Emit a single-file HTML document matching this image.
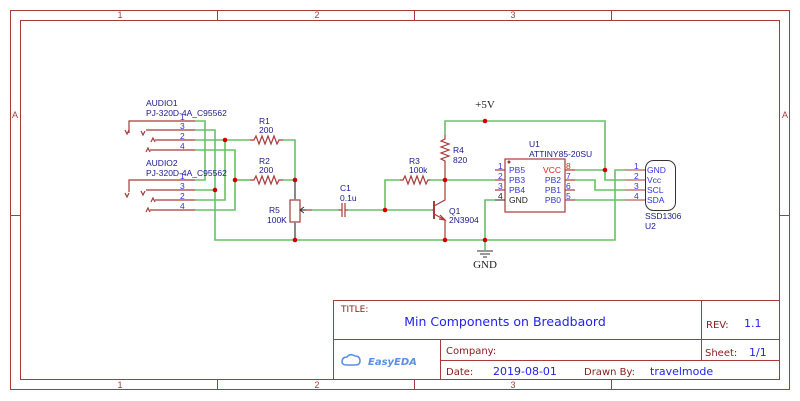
<!DOCTYPE html>
<html><head><meta charset="utf-8"><style>
html,body{margin:0;padding:0;background:#fff;}
svg{display:block;}
text{font-family:"Liberation Sans",sans-serif;}
text.serif{font-family:"Liberation Serif",serif;}
text.dv{font-family:"DejaVu Sans",sans-serif;}
</style></head><body>
<svg width="800" height="401" viewBox="0 0 800 401" xmlns="http://www.w3.org/2000/svg">
<g fill="none" stroke="#a83a3a" stroke-width="1">
<rect x="10.5" y="10.5" width="779" height="379"/>
<rect x="20.5" y="20.5" width="759" height="359"/>
<line x1="217.5" y1="10" x2="217.5" y2="20"/><line x1="414.5" y1="10" x2="414.5" y2="20"/><line x1="611.5" y1="10" x2="611.5" y2="20"/>
<line x1="217.5" y1="380" x2="217.5" y2="390"/><line x1="414.5" y1="380" x2="414.5" y2="390"/><line x1="611.5" y1="380" x2="611.5" y2="390"/>
<line x1="10" y1="215.5" x2="20" y2="215.5"/><line x1="780" y1="215.5" x2="790" y2="215.5"/>
</g>
<g font-size="9" fill="#a83a3a" text-anchor="middle">
<text x="120" y="18">1</text><text x="317" y="18">2</text><text x="513" y="18">3</text>
<text x="120" y="388">1</text><text x="317" y="388">2</text><text x="513" y="388">3</text>
<text x="15" y="118">A</text><text x="785" y="118">A</text>
</g>

<g fill="none" stroke="#66c266" stroke-width="1.6">
<polyline points="195,121 205,121 205,180 195,180"/>
<polyline points="195,130 215,130 215,240 485,240"/>
<polyline points="195,140 250,140"/>
<polyline points="195,150 235,150 235,210 195,210"/>
<polyline points="195,190 215,190"/>
<polyline points="195,200 225,200 225,140"/>
<polyline points="235,180 250,180"/>
<polyline points="283,140 295,140 295,180 283,180"/>
<polyline points="312,210 338,210"/>
<polyline points="348,210 432,210"/>
<polyline points="385,210 385,180 400,180"/>
<polyline points="430,180 495,180"/>
<polyline points="445,135 445,121 605,121 605,180 625,180"/>
<polyline points="575,170 605,170"/>
<polyline points="575,180 595,180 595,190 625,190"/>
<polyline points="575,200 625,200"/>
<polyline points="495,200 485,200 485,250"/>
<polyline points="485,240 615,240 615,170 625,170"/>
</g>

<g fill="none" stroke="#a83a3a" stroke-width="1.2">
<polyline points="129,133 129,121 195,121"/><polyline points="146,130 195,130"/><polyline points="155,140 195,140"/><polyline points="150,150 195,150"/>
<polyline points="125,130 127,134 129,130"/><polyline points="141,131 143,135 145,131"/><polyline points="151,142 153,138 155,142"/><polyline points="146,152 148,148 150,152"/>
<polyline points="129,192 129,180 195,180"/><polyline points="146,190 195,190"/><polyline points="155,200 195,200"/><polyline points="150,210 195,210"/>
<polyline points="125,193 127,197 129,193"/><polyline points="141,191 143,195 145,191"/><polyline points="151,202 153,198 155,202"/><polyline points="146,212 148,208 150,212"/>
<polyline points="250,140 254,140 256,136 259,144 262,136 265,144 268,136 271,144 274,136 277,144 279,140 283,140"/>
<polyline points="250,180 254,180 256,176 259,184 262,176 265,184 268,176 271,184 274,176 277,184 279,180 283,180"/>
<polyline points="400,180 403,180 405,176 408,184 411,176 414,184 417,176 420,184 423,176 426,184 428,180 430,180"/>
<polyline points="445,135 445,139 441,141 449,144 441,147 449,150 441,153 449,156 441,159 445,161 445,165"/>
<rect x="290" y="200" width="10" height="22"/>
<polyline points="302,210 312,210"/>
<line x1="338" y1="210" x2="342" y2="210"/><line x1="342" y1="203" x2="342" y2="217"/><line x1="345" y1="203" x2="345" y2="217"/><line x1="345" y1="210" x2="348" y2="210"/>
<line x1="434" y1="201" x2="434" y2="219" stroke-width="2"/>
<polyline points="434,206 445,200 445,180"/>
<polyline points="434,214 445,220 445,240"/>
<polyline points="440,215 445,220 439,219"/>
<line x1="432" y1="210" x2="434" y2="210"/>
<line x1="445" y1="165" x2="445" y2="180"/>
<rect x="505" y="159" width="60" height="53"/>
<line x1="495" y1="170" x2="505" y2="170"/><line x1="495" y1="180" x2="505" y2="180"/><line x1="495" y1="190" x2="505" y2="190"/>
<line x1="565" y1="170" x2="575" y2="170"/><line x1="565" y1="180" x2="575" y2="180"/><line x1="565" y1="190" x2="575" y2="190"/><line x1="565" y1="200" x2="575" y2="200"/>
</g>
<line x1="495" y1="200" x2="505" y2="200" stroke="#222" stroke-width="1"/>
<circle cx="509" cy="162" r="1.5" fill="#a33"/>
<g stroke="#888" stroke-width="2"><line x1="295" y1="180" x2="295" y2="200"/><line x1="295" y1="222" x2="295" y2="240"/></g>
<g fill="none" stroke="#333" stroke-width="1">
<line x1="300" y1="210" x2="306" y2="210"/><polyline points="304,207 300,210 304,213"/>
<rect x="645.5" y="160.5" width="30" height="50" rx="8"/>
<line x1="625" y1="170" x2="645" y2="170" stroke="#a33"/><line x1="625" y1="180" x2="645" y2="180" stroke="#a33"/><line x1="625" y1="190" x2="645" y2="190" stroke="#a33"/><line x1="625" y1="200" x2="645" y2="200" stroke="#a33"/>
<line x1="477" y1="251" x2="493" y2="251"/><line x1="480" y1="254" x2="490" y2="254"/><line x1="483" y1="257" x2="487" y2="257"/>
</g>
<g fill="#c00">
<circle cx="225" cy="140" r="2.3"/><circle cx="235" cy="180" r="2.3"/><circle cx="215" cy="190" r="2.3"/>
<circle cx="295" cy="180" r="2.3"/><circle cx="295" cy="240" r="2.3"/><circle cx="385" cy="210" r="2.3"/>
<circle cx="445" cy="180" r="2.3"/><circle cx="445" cy="240" r="2.3"/><circle cx="485" cy="240" r="2.3"/>
<circle cx="485" cy="121" r="2.3"/><circle cx="605" cy="170" r="2.3"/>
</g>
<g font-size="8.5" fill="#1a1a8c">
<text x="146" y="106">AUDIO1</text><text x="146" y="116">PJ-320D-4A_C95562</text>
<text x="146" y="166">AUDIO2</text><text x="146" y="176">PJ-320D-4A_C95562</text>
<text x="259" y="124">R1</text><text x="259" y="133">200</text>
<text x="259" y="164">R2</text><text x="259" y="173">200</text>
<text x="269" y="213">R5</text><text x="267" y="223">100K</text>
<text x="340" y="191">C1</text><text x="340" y="201">0.1u</text>
<text x="409" y="164">R3</text><text x="409" y="173">100k</text>
<text x="453" y="153">R4</text><text x="453" y="163">820</text>
<text x="449" y="214">Q1</text><text x="449" y="223">2N3904</text>
<text x="529" y="147">U1</text><text x="529" y="157">ATTINY85-20SU</text>
<text x="645" y="219">SSD1306</text><text x="645" y="229">U2</text>
</g>
<g font-size="8.5" fill="#3333dd">
<text x="180" y="120">1</text><text x="180" y="129">3</text><text x="180" y="139">2</text><text x="180" y="149">4</text>
<text x="180" y="179">1</text><text x="180" y="189">3</text><text x="180" y="199">2</text><text x="180" y="209">4</text>
<text x="498" y="169">1</text><text x="498" y="179">2</text><text x="498" y="189">3</text>
<text x="509" y="173">PB5</text><text x="509" y="183">PB3</text><text x="509" y="193">PB4</text>
<text x="561" y="183" text-anchor="end">PB2</text><text x="561" y="193" text-anchor="end">PB1</text><text x="561" y="203" text-anchor="end">PB0</text>
<text x="566" y="179">7</text><text x="566" y="189">6</text><text x="566" y="199">5</text>
<text x="634" y="169">1</text><text x="634" y="179">2</text><text x="634" y="189">3</text><text x="634" y="199">4</text>
<text x="647" y="173">GND</text><text x="647" y="183">Vcc</text><text x="647" y="193">SCL</text><text x="647" y="203">SDA</text>
</g>
<text x="509" y="203" font-size="8.5" fill="#222">GND</text><text x="498" y="199" font-size="8.5" fill="#222">4</text>
<text x="561" y="173" font-size="8.5" fill="#e02020" text-anchor="end">VCC</text><text x="566" y="169" font-size="8.5" fill="#e02020">8</text>
<text class="serif" x="485" y="108" font-size="11" fill="#222" text-anchor="middle">+5V</text>
<text class="serif" x="485" y="268" font-size="11" fill="#222" text-anchor="middle">GND</text>

<g fill="none" stroke="#a83a3a" stroke-width="1">
<rect x="333.5" y="300.5" width="446" height="79"/>
<line x1="333" y1="339.5" x2="780" y2="339.5"/>
<line x1="701.5" y1="300" x2="701.5" y2="360"/>
<line x1="440.5" y1="339" x2="440.5" y2="380"/>
<line x1="440" y1="360.5" x2="780" y2="360.5"/>
</g>
<g>
<text class="dv" x="341" y="312" font-size="9" fill="#8b1a1a">TITLE:</text>
<text class="dv" x="505" y="326" font-size="12.5" fill="#2222ee" text-anchor="middle">Min Components on Breadbaord</text>
<text class="dv" x="706" y="328" font-size="10" fill="#8b1a1a">REV:</text><text class="dv" x="744" y="327" font-size="11" fill="#2222ee">1.1</text>
<text class="dv" x="446" y="354" font-size="10" fill="#8b1a1a">Company:</text>
<text class="dv" x="705" y="356" font-size="10" fill="#8b1a1a">Sheet:</text><text class="dv" x="749" y="356" font-size="11" fill="#2222ee">1/1</text>
<text class="dv" x="446" y="375" font-size="10" fill="#8b1a1a">Date:</text><text class="dv" x="493" y="375" font-size="11" fill="#2222ee">2019-08-01</text>
<text class="dv" x="584" y="375" font-size="10" fill="#8b1a1a">Drawn By:</text><text class="dv" x="650" y="375" font-size="11" fill="#2222ee">travelmode</text>
<text class="dv" x="368" y="365" font-size="10" font-style="italic" font-weight="bold" fill="#5a8ee8">EasyEDA</text>
</g>
<path d="M342,362 q0,-5 5,-5 q3,-4 8,-1 q5,0 5,5 q0,4 -5,4 h-8 q-5,0 -5,-3z" fill="none" stroke="#5a8ee8" stroke-width="1.5"/>
</svg>
</body></html>
